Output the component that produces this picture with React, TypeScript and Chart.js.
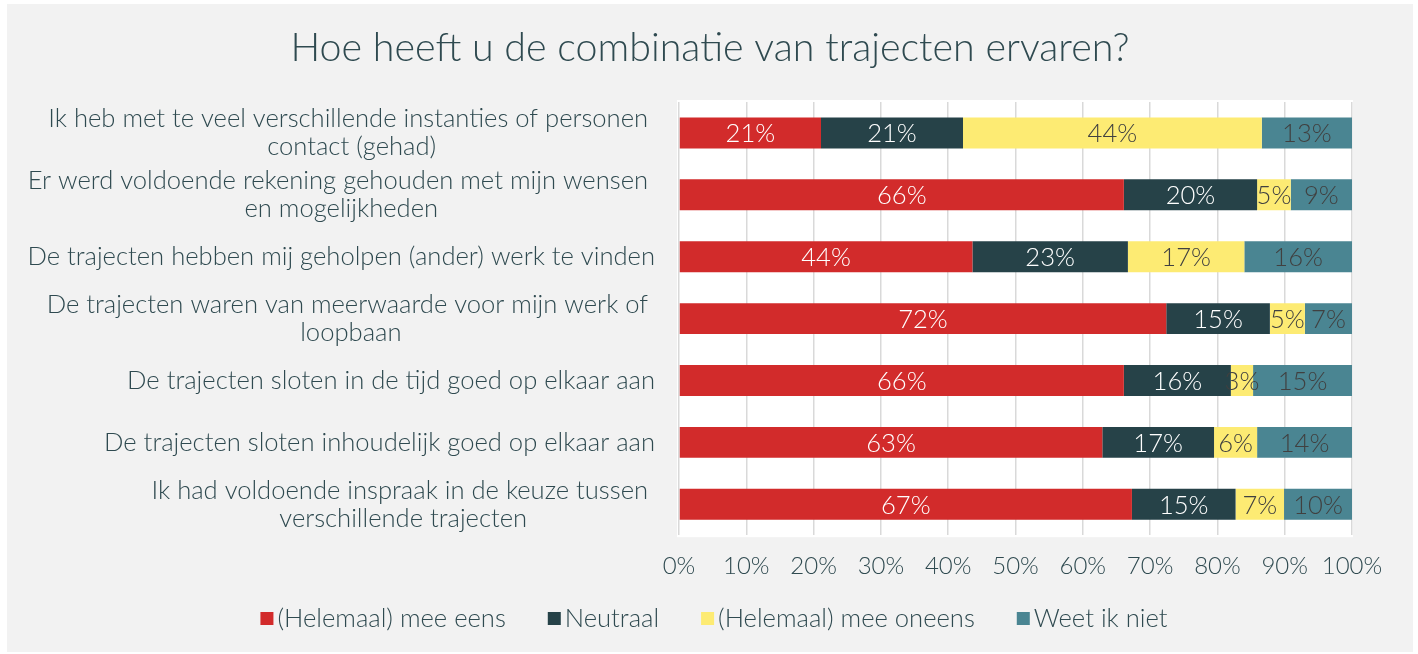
import React, { useEffect, useRef } from "react";
import { Chart, registerables } from "chart.js";

Chart.register(...registerables);

const TITLE = "Hoe heeft u de combinatie van trajecten ervaren?";
const categories: string[][] = [
  ["Ik heb met te veel verschillende instanties of personen ", "contact (gehad)"],
  ["Er werd voldoende rekening gehouden met mijn wensen ", "en mogelijkheden"],
  ["De trajecten hebben mij geholpen (ander) werk te vinden"],
  ["De trajecten waren van meerwaarde voor mijn werk of ", "loopbaan"],
  ["De trajecten sloten in de tijd goed op elkaar aan"],
  ["De trajecten sloten inhoudelijk goed op elkaar aan"],
  ["Ik had voldoende inspraak in de keuze tussen ", "verschillende trajecten"],
];
const seriesNames = ["(Helemaal) mee eens", "Neutraal", "(Helemaal) mee oneens", "Weet ik niet"];
const eens = [21.1, 66.1, 43.6, 72.4, 66.1, 62.9, 67.3];
const neutraal = [21.1, 19.8, 23.1, 15.4, 15.9, 16.6, 15.4];
const oneens = [44.4, 5.0, 17.3, 5.2, 3.3, 6.4, 7.2];
const weetNiet = [13.4, 9.1, 16.0, 7.0, 14.7, 14.1, 10.1];
const xTicks = [0, 10, 20, 30, 40, 50, 60, 70, 80, 90, 100];

const COLORS = ["#D22B2B", "#264248", "#FDEB73", "#4A8592"];
const LABEL_COLORS = ["#FFFFFF", "#FFFFFF", "#404040", "#404040"];
const TEXT = "#2F4A50";
const FONT = "Lato";
const W = "300";

export default function App() {
  const ref = useRef<HTMLCanvasElement | null>(null);
  useEffect(() => {
    if (!ref.current) return;
    const decor = {
      id: "decor",
      beforeDraw(chart: any) {
        const { ctx, chartArea: a } = chart;
        ctx.save();
        ctx.fillStyle = "#FFFFFF";
        ctx.fillRect(0, 0, chart.width, chart.height);
        ctx.fillStyle = "#F2F2F2";
        ctx.fillRect(7, 4, 1406, 648);
        ctx.fillStyle = "#FFFFFF";
        ctx.fillRect(a.left - 2, a.top - 2, a.right - a.left + 3, a.bottom - a.top + 4);
        ctx.restore();
      },
      afterDraw(chart: any) {
        const { ctx } = chart;
        const y = chart.scales.y;
        ctx.save();
        // title
        ctx.fillStyle = TEXT;
        ctx.font = `${W} 39.4px ${FONT}`;
        ctx.textAlign = "center";
        ctx.textBaseline = "middle";
        ctx.fillText(TITLE, 710, 48);
        // category labels
        ctx.font = `${W} 25.6px ${FONT}`;
        categories.forEach((lines, i) => {
          const cy = y.getPixelForValue(i);
          const w = Math.max(...lines.map((l) => ctx.measureText(l).width));
          const cx = 655 - w / 2;
          const lh = 28;
          const y0 = cy - ((lines.length - 1) * lh) / 2;
          lines.forEach((l, j) => ctx.fillText(l, cx, y0 + j * lh));
        });
        // data labels
        ctx.font = `${W} 25.6px ${FONT}`;
        chart.data.datasets.forEach((ds: any, di: number) => {
          const meta = chart.getDatasetMeta(di);
          meta.data.forEach((bar: any, i: number) => {
            const v = ds.data[i];
            const p = bar.getProps(["x", "base", "y"], true);
            ctx.fillStyle = LABEL_COLORS[di];
            ctx.fillText(Math.round(v) + "%", (p.x + p.base) / 2, p.y + 1);
          });
        });
        // legend
        ctx.font = `${W} 25.6px ${FONT}`;
        const box = 13, gap = 4, sep = 42;
        const widths = seriesNames.map((n) => ctx.measureText(n).width);
        const total = widths.reduce((s, w) => s + box + gap + w, 0) + sep * (seriesNames.length - 1);
        let x = 714 - total / 2;
        const ly = 618;
        ctx.textAlign = "left";
        seriesNames.forEach((n, i) => {
          ctx.fillStyle = COLORS[i];
          ctx.fillRect(x, ly - 6, box, box);
          ctx.fillStyle = TEXT;
          ctx.fillText(n, x + box + gap, ly + 1);
          x += box + gap + widths[i] + sep;
        });
        ctx.restore();
      },
    };
    const mk = (name: string, data: number[], i: number) => ({
      label: name,
      data,
      backgroundColor: COLORS[i],
      borderWidth: 0,
      categoryPercentage: 0.5,
      barPercentage: 1.0,
    });
    const chart = new Chart(ref.current, {
      type: "bar",
      data: {
        labels: categories.map((c) => c.join("")),
        datasets: [
          mk(seriesNames[0], eens, 0),
          mk(seriesNames[1], neutraal, 1),
          mk(seriesNames[2], oneens, 2),
          mk(seriesNames[3], weetNiet, 3),
        ],
      },
      options: {
        indexAxis: "y",
        animation: false,
        responsive: false,
        maintainAspectRatio: false,
        layout: { padding: { left: 679, right: 66, top: 102, bottom: 56 } },
        plugins: { legend: { display: false }, title: { display: false }, tooltip: { enabled: false } },
        scales: {
          x: {
            stacked: true,
            min: 0,
            max: 100,
            afterBuildTicks: (axis: any) => {
              axis.ticks = xTicks.map((v) => ({ value: v }));
            },
            grid: { color: "#D9D9D9", lineWidth: 1.5, drawTicks: false },
            border: { display: false },
            ticks: {
              color: TEXT,
              font: { family: FONT, size: 24, weight: W },
              padding: 17,
              callback: (v: any) => v + "%",
            },
          },
          y: { stacked: true, display: false },
        },
      },
      plugins: [decor],
    });
    return () => chart.destroy();
  }, []);
  return (
    <div style={{ position: "absolute", left: 0, top: 0, width: 1418, height: 654 }}>
      <canvas ref={ref} width={1418} height={654} style={{ display: "block" }} />
    </div>
  );
}
